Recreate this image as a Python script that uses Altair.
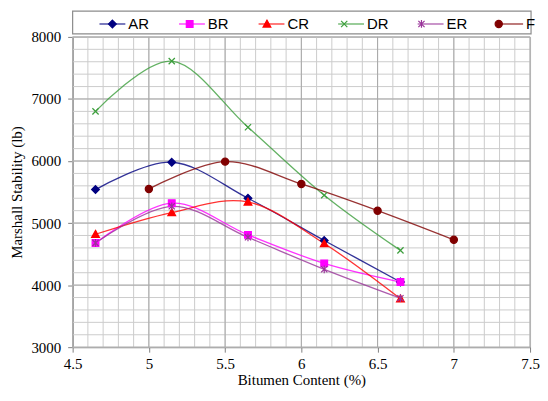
import altair as alt
import pandas as pd

# ---- data ----
series = ["AR", "BR", "CR", "DR", "ER", "F"]
x_mix = [4.65, 5.15, 5.65, 6.15, 6.65]
x_f = [5.0, 5.5, 6.0, 6.5, 7.0]
ar = [5540, 5980, 5400, 4720, 4050]
br = [4680, 5320, 4810, 4350, 4050]
cr = [4820, 5170, 5340, 4670, 3780]
dr = [6800, 7610, 6545, 5450, 4560]
er = [4680, 5270, 4770, 4255, 3790]
f = [5550, 5990, 5630, 5200, 4730]

x_ticks = [round(4.5 + 0.1 * i, 1) for i in range(31)]
y_ticks = list(range(3000, 8001, 200))
x_major = [4.5, 5.0, 5.5, 6.0, 6.5, 7.0, 7.5]
y_major = [3000, 4000, 5000, 6000, 7000, 8000]
x_range = [4.5, 7.5]
y_range = [3000, 8000]

colors = ["#000080", "#FF00FF", "#FF0000", "#3C9E3C", "#993399", "#800000"]
shapes = [
    "M0,-0.3L0.3,0L0,0.3L-0.3,0Z",                                   # diamond
    "M-0.26,-0.26L0.26,-0.26L0.26,0.26L-0.26,0.26Z",                 # square
    "M0,-0.3L0.3,0.24L-0.3,0.24Z",                                   # triangle
    "M-0.24,-0.24L0.24,0.24M-0.24,0.24L0.24,-0.24",                  # x
    "M-0.24,-0.24L0.24,0.24M-0.24,0.24L0.24,-0.24M0,-0.3L0,0.3",     # asterisk
    "M-0.28,0A0.28,0.28 0 1,0 0.28,0A0.28,0.28 0 1,0 -0.28,0Z",      # circle
]
series_pt = [s + "_p" for s in series]

rows = []
for name, name_pt, xs, ys in zip(series, series_pt, [x_mix] * 5 + [x_f], [ar, br, cr, dr, er, f]):
    for xv, yv in zip(xs, ys):
        rows.append({"series": name, "series_pt": name_pt, "x": xv, "y": yv})
df = pd.DataFrame(rows)

major_x = "abs(datum.value*2 - round(datum.value*2)) < 0.01"
major_y = "datum.value % 1000 == 0"

x_enc = alt.X(
    "x:Q",
    title="Bitumen Content (%)",
    scale=alt.Scale(domain=x_range, nice=False, zero=False),
    axis=alt.Axis(
        values=x_ticks,
        grid=False,
        labelExpr=f"{major_x} ? format(datum.value, '~g') : ''",
        tickOpacity={"condition": {"test": major_x, "value": 1}, "value": 0},
        labelOverlap=False,
        labelFlush=False,
        labelPadding=4,
        titlePadding=2,
    ),
)
y_enc = alt.Y(
    "y:Q",
    title="Marshall Stability (lb)",
    scale=alt.Scale(domain=y_range, nice=False, zero=False),
    axis=alt.Axis(
        values=y_ticks,
        grid=False,
        labelExpr=f"{major_y} ? format(datum.value, 'd') : ''",
        tickOpacity={"condition": {"test": major_y, "value": 1}, "value": 0},
        labelOverlap=False,
        labelFlush=False,
        labelPadding=7,
        titlePadding=6,
    ),
)


def grid_lines(values, color, vertical):
    recs = []
    for i, v in enumerate(values):
        if vertical:
            recs += [{"gid": i, "x": v, "y": y_range[0]}, {"gid": i, "x": v, "y": y_range[1]}]
        else:
            recs += [{"gid": i, "x": x_range[0], "y": v}, {"gid": i, "x": x_range[1], "y": v}]
    return alt.Chart(pd.DataFrame(recs)).mark_line(color=color, strokeWidth=1).encode(
        x=x_enc, y=y_enc, detail="gid:N"
    )


common_legend = dict(
    title=None,
    orient="none",
    legendX=26,
    legendY=-27,
    direction="horizontal",
    columns=6,
    symbolSize=676,
    labelFont="Liberation Sans",
    labelFontSize=15,
    gridAlign="all",
    padding=0,
)
line_legend = alt.Legend(
    symbolType="stroke", symbolStrokeWidth=1.3, labelOffset=2, columnPadding=26, **common_legend
)
pt_legend = alt.Legend(
    symbolStrokeWidth=1.2, labelExpr="''", labelOffset=0, columnPadding=49.7, **common_legend
)

box = alt.Chart(pd.DataFrame({"k": [0]})).mark_rect(
    fill="white", fillOpacity=0, stroke="#8c8c8c", strokeWidth=1.2
).encode(x=alt.value(0), x2=alt.value(461), y=alt.value(-26), y2=alt.value(-3))

lines = alt.Chart(df).mark_line(interpolate="cardinal", strokeWidth=1.3, opacity=0.8).encode(
    x=x_enc,
    y=y_enc,
    color=alt.Color("series:N", scale=alt.Scale(domain=series, range=colors), legend=line_legend),
)

points = alt.Chart(df).mark_point(filled=True, size=676, strokeWidth=1.2, opacity=1).encode(
    x=x_enc,
    y=y_enc,
    shape=alt.Shape("series_pt:N", scale=alt.Scale(domain=series_pt, range=shapes), legend=pt_legend),
    fill=alt.Fill("series_pt:N", scale=alt.Scale(domain=series_pt, range=colors), legend=pt_legend),
    stroke=alt.Stroke("series_pt:N", scale=alt.Scale(domain=series_pt, range=colors), legend=pt_legend),
)

chart = (
    alt.layer(
        box,
        grid_lines(x_ticks, "#cccccc", True),
        grid_lines(y_ticks, "#cccccc", False),
        grid_lines(x_major, "#a8a8a8", True),
        grid_lines(y_major, "#a8a8a8", False),
        lines,
        points,
    )
    .properties(
        width=460,
        height=312,
        padding={"left": 65, "top": 28, "right": 10, "bottom": 45},
        autosize=alt.AutoSizeParams(type="none"),
    )
    .configure_view(stroke="#b5b5b5", strokeWidth=1)
    .configure_axis(
        labelFont="Liberation Serif",
        labelFontSize=15,
        labelColor="black",
        titleFont="Liberation Serif",
        titleFontSize=15,
        titleFontWeight="normal",
        titleColor="black",
        domainColor="#808080",
        tickColor="#808080",
        tickSize=5,
    )
    .configure_legend(labelColor="black")
)

chart.save("out.html", embed_options={"renderer": "svg", "actions": False})
